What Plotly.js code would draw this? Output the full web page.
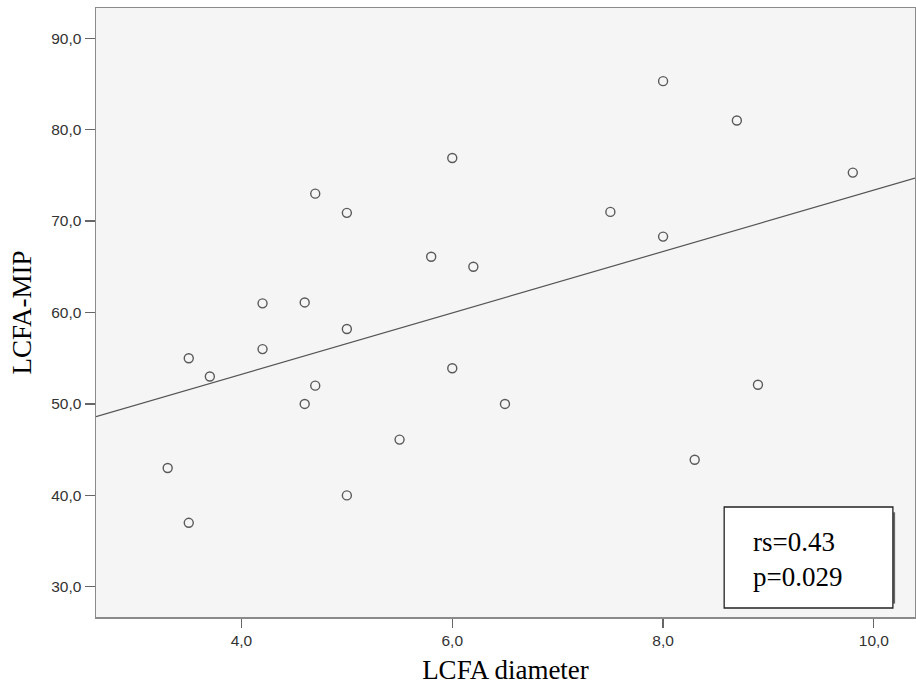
<!DOCTYPE html>
<html>
<head>
<meta charset="utf-8">
<script src="https://cdn.plot.ly/plotly-3.0.1.min.js"></script>
<style>html,body{margin:0;padding:0;background:#fff;}#chart{width:916px;height:686px;}</style>
</head>
<body>
<div id="chart"></div>
<script>
// LCFA diameter (x) vs LCFA-MIP (y)
const diameter = [3.3, 3.5, 3.5, 3.7, 4.2, 4.2, 4.6, 4.6, 4.7, 4.7, 5.0, 5.0, 5.0, 5.5, 5.8, 6.0, 6.0, 6.2, 6.5, 7.5, 8.0, 8.0, 8.3, 8.7, 8.9, 9.8];
const mip      = [43.0, 37.0, 55.0, 53.0, 61.0, 56.0, 61.1, 50.0, 73.0, 52.0, 70.9, 58.2, 40.0, 46.1, 66.1, 76.9, 53.9, 65.0, 50.0, 71.0, 85.3, 68.3, 43.9, 81.0, 52.1, 75.3];
// fit line read at the plot edges
const fitX = [2.62, 10.39];
const fitY = [48.6, 74.7];
const xTicks = [4, 6, 8, 10];
const xTickText = ["4,0", "6,0", "8,0", "10,0"];
const yTicks = [30, 40, 50, 60, 70, 80, 90];
const yTickText = ["30,0", "40,0", "50,0", "60,0", "70,0", "80,0", "90,0"];
const statLines = ["rs=0.43", "p=0.029"];

const serif = 'Liberation Serif, Times New Roman, serif';
const sans = 'Liberation Sans, Arial, sans-serif';

const traces = [
  {x: diameter, y: mip, type: 'scatter', mode: 'markers',
   marker: {symbol: 'circle-open', size: 9, color: '#5a5a5a', line: {width: 1.4, color: '#5a5a5a'}},
   hoverinfo: 'x+y', showlegend: false},
  {x: fitX, y: fitY, type: 'scatter', mode: 'lines',
   line: {color: '#555', width: 1.2}, hoverinfo: 'skip', showlegend: false}
];

const layout = {
  width: 916, height: 686,
  margin: {l: 96, r: 1, t: 8, b: 69},
  paper_bgcolor: '#ffffff',
  plot_bgcolor: '#f5f5f5',
  xaxis: {
    range: [2.62, 10.39], tickvals: xTicks, ticktext: xTickText,
    showgrid: false, zeroline: false,
    showline: true, linecolor: '#8a8a8a', linewidth: 1.5, mirror: true,
    ticks: 'outside', ticklen: 9, tickwidth: 1.2, tickcolor: '#666',
    tickfont: {family: sans, size: 15.5, color: '#333'},
    title: {text: 'LCFA diameter', font: {family: serif, size: 27, color: '#000'}, standoff: 12}
  },
  yaxis: {
    range: [26.7, 93.3], tickvals: yTicks, ticktext: yTickText,
    showgrid: false, zeroline: false,
    showline: true, linecolor: '#8a8a8a', linewidth: 1.5, mirror: true,
    ticks: 'outside', ticklen: 10, tickwidth: 1.2, tickcolor: '#666',
    tickfont: {family: sans, size: 15.5, color: '#333'},
    title: {text: 'LCFA-MIP', font: {family: serif, size: 27, color: '#000'}, standoff: 12}
  },
  shapes: [
    {type: 'line', xref: 'paper', yref: 'paper', x0: 0.9745, x1: 0.9745, y0: 0.022, y1: 0.172,
     line: {color: '#666', width: 2}, layer: 'above'},
    {type: 'rect', xref: 'paper', yref: 'paper', x0: 0.767, x1: 0.973, y0: 0.0148, y1: 0.1806,
     fillcolor: '#ffffff', line: {color: '#222', width: 1.3}, layer: 'above'}
  ],
  annotations: [
    {xref: 'paper', yref: 'paper', x: 0.80, y: 0.123, xanchor: 'left', yanchor: 'middle', showarrow: false,
     text: statLines[0], font: {family: serif, size: 27, color: '#000'}},
    {xref: 'paper', yref: 'paper', x: 0.80, y: 0.066, xanchor: 'left', yanchor: 'middle', showarrow: false,
     text: statLines[1], font: {family: serif, size: 27, color: '#000'}}
  ]
};

Plotly.newPlot('chart', traces, layout, {displayModeBar: false, staticPlot: true});
</script>
</body>
</html>
